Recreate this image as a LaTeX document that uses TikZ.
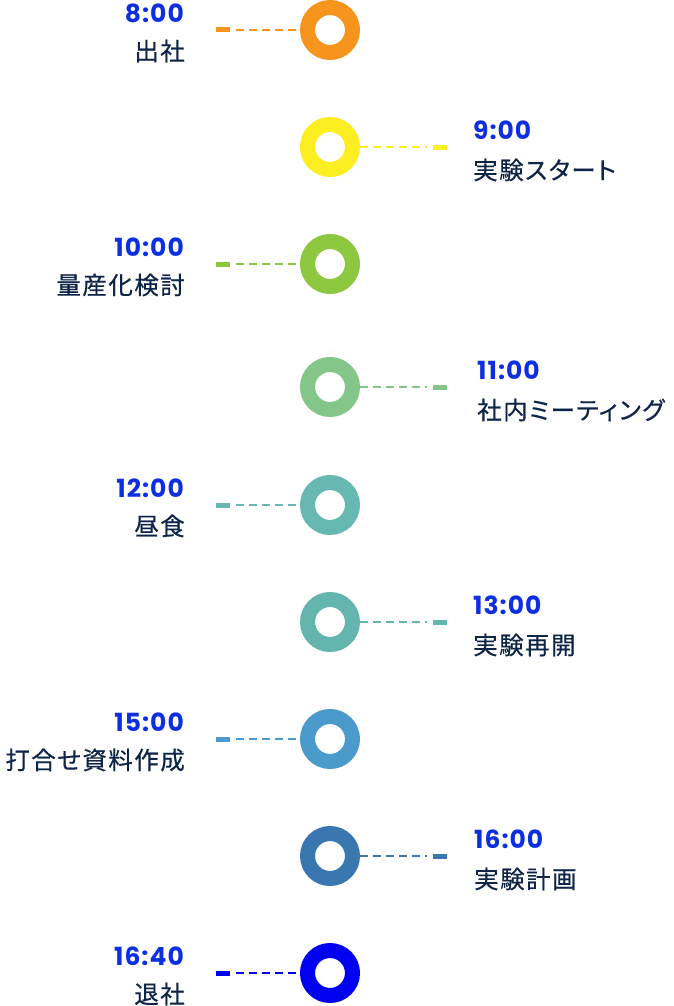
\documentclass[tikz,border=0pt]{standalone}
\usepackage{fontspec}
\newfontfamily\timefont{Poppins}[BoldFont={* Bold},LetterSpace=4]
\newfontfamily\jpfont{Noto Sans CJK JP}[LetterSpace=6,RawFeature=+palt,FakeBold=0.5]
\definecolor{cOrange}{HTML}{F7941D}
\definecolor{cYellow}{HTML}{FCEE21}
\definecolor{cGreen}{HTML}{8DC63F}
\definecolor{cLGreen}{HTML}{84C68A}
\definecolor{cTealA}{HTML}{66B8B0}
\definecolor{cTealB}{HTML}{63B5AD}
\definecolor{cBlueA}{HTML}{4A9ACB}
\definecolor{cBlueB}{HTML}{3A77B0}
\definecolor{cBlueC}{HTML}{0000F0}
\definecolor{timeblue}{HTML}{0D2FE0}
\definecolor{navy}{HTML}{0F2548}
\begin{document}
\begin{tikzpicture}[x=1pt,y=-1pt,
  ring/.style={circle,draw=#1,line width=15pt,minimum size=45pt,inner sep=0pt},
  tick/.style={fill=#1,draw=none,minimum width=14pt,minimum height=5pt,inner sep=0pt},
  conn/.style={draw=#1,line width=1.3pt,dash pattern=on 8pt off 5pt},
  timeL/.style={anchor=east,text=timeblue,font=\timefont\bfseries\fontsize{25}{25}\selectfont,inner sep=0pt},
  timeR/.style={anchor=west,text=timeblue,font=\timefont\bfseries\fontsize{25}{25}\selectfont,inner sep=0pt},
  jpL/.style={anchor=east,text=navy,font=\jpfont\fontsize{24.5}{24.5}\selectfont,inner sep=0pt},
  jpR/.style={anchor=west,text=navy,font=\jpfont\fontsize{24.5}{24.5}\selectfont,inner sep=0pt}]
\useasboundingbox (0,0) rectangle (673,1006);
% items: left side
\foreach \i/\y/\c/\t/\j in {a/30/cOrange/8:00/出社, c/264/cGreen/10:00/量産化検討, e/505/cTealA/12:00/昼食, g/739/cBlueA/15:00/打合せ資料作成, i/973/cBlueC/16:40/退社}{
  \node[ring=\c] (r\i) at (330,\y) {};
  \node[tick=\c] (k\i) at (223,\y) {};
  \draw[conn=\c] (k\i.east) ++(6,0) coordinate (s\i) (s\i) -- (r\i.west);
  \node[timeL] (t\i) at (184,\y-17) {\t};
  \node[jpL] (j\i) at (185,\y+21) {\j};
}
\foreach \i/\y/\c/\t/\j/\x in {b/147/cYellow/9:00/実験スタート/473, d/387/cLGreen/11:00/社内ミーティング/477, f/622/cTealB/13:00/実験再開/473, h/856/cBlueB/16:00/実験計画/474}{
  \node[ring=\c] (r\i) at (330,\y) {};
  \node[tick=\c] (k\i) at (440,\y) {};
  \draw[conn=\c] (r\i.east) -- ([xshift=-6pt]k\i.west) coordinate (s\i);
  \node[timeR] (t\i) at (\x,\y-17) {\t};
  \node[jpR] (j\i) at (\x,\y+23) {\j};
}
\fill[gray!40] (330,352) circle (0.6pt);
\end{tikzpicture}
\end{document}
